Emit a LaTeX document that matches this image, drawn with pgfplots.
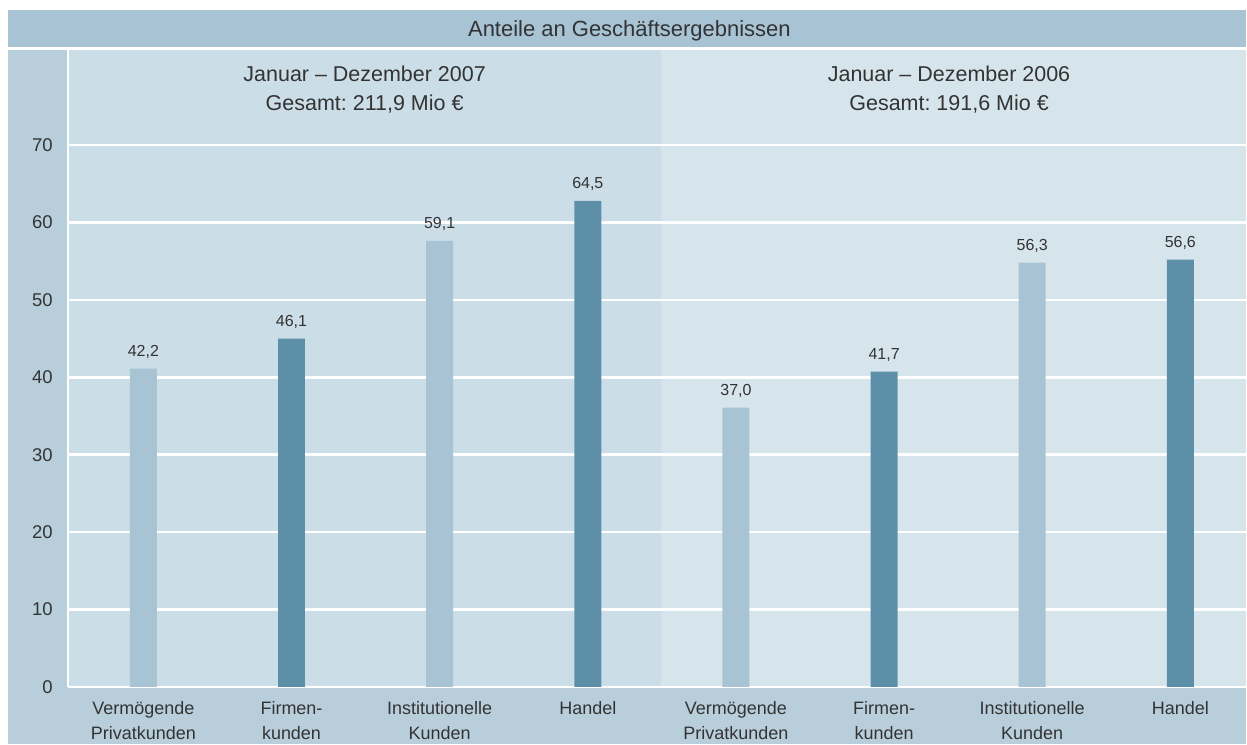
\documentclass[border=0pt]{standalone}
\usepackage{pgfplots}
\pgfplotsset{compat=1.18}
\usepackage{pgfplotstable}
\usepackage{fontspec}
\setmainfont{Liberation Sans}
\frenchspacing
\definecolor{titlebar}{HTML}{A7C3D4}
\definecolor{strip}{HTML}{B8CFDB}
\definecolor{panelL}{HTML}{CBDDE6}
\definecolor{panelR}{HTML}{D6E5EC}
\definecolor{barL}{HTML}{A7C3D4}
\definecolor{barD}{HTML}{5E8FA8}
\definecolor{txt}{HTML}{333333}

\pgfplotstableread{
x y lab
143.5 41.12 42,2
440.1 57.65 59,1
736.7 36.09 37,0
1033.2 54.81 56,3
}\light
\pgfplotstableread{
x y lab
291.8 45.00 46,1
588.4 62.81 64,5
885.0 40.74 41,7
1181.5 55.20 56,6
}\dark

\begin{document}
\begin{tikzpicture}
\begin{axis}[
 set layers,
 scale only axis, width=1179pt, height=637.5pt,
 xmin=68, xmax=1247, ymin=0, ymax=82.31,
 enlargelimits=false,
 clip=false,
 axis x line=bottom, axis y line=left,
 axis line style={white, line width=2.5pt, -},
 xtick={143.5,291.8,440.1,588.4,736.7,885.0,1033.2,1181.5},
 xticklabels={{Vermögende\\Privatkunden},{Firmen-\\kunden},{Institutionelle\\Kunden},{Handel},{Vermögende\\Privatkunden},{Firmen-\\kunden},{Institutionelle\\Kunden},{Handel}},
 ytick={0,10,...,70},
 major tick length=0pt,
 ymajorgrids, major grid style={white, line width=2.5pt},
 tick label style={font=\fontsize{18}{25}\selectfont, text=txt},
 xticklabel style={align=center, inner sep=0pt, anchor=north, yshift=-14pt},
 yticklabel style={inner sep=0pt, anchor=east, xshift=-15pt, font=\fontsize{18.5}{22}\selectfont},
 /pgf/number format/assume math mode=true,
 point meta=explicit symbolic,
 nodes near coords,
 every node near coord/.append style={font=\fontsize{16}{19}\selectfont, text=txt, anchor=base, yshift=12.5pt, inner sep=0pt},
]
\begin{pgfonlayer}{axis background}
\fill[white] (axis cs:0,-7.424) rectangle (axis cs:1247,88.77);
\fill[strip] (axis cs:8,-7.424) rectangle (axis cs:1247,82.31);
\fill[titlebar] (axis cs:8,82.70) rectangle (axis cs:1247,87.48);
\fill[panelL] (axis cs:68,0) rectangle (axis cs:662,82.31);
\fill[panelR] (axis cs:662,0) rectangle (axis cs:1247,82.31);
\end{pgfonlayer}

\addplot[ybar, bar width=27pt, bar shift=0pt, fill=barL, draw=none] table[x=x, y=y, meta=lab] {\light};
\addplot[ybar, bar width=27pt, bar shift=0pt, fill=barD, draw=none] table[x=x, y=y, meta=lab] {\dark};

\node[anchor=base, font=\fontsize{22}{26}\selectfont, text=txt] at (axis cs:630,84.0) {Anteile an Geschäftsergebnissen};
\node[anchor=base, font=\fontsize{21.5}{25}\selectfont, text=txt] at (axis cs:365,78.21) {Januar – Dezember 2007};
\node[anchor=base, font=\fontsize{21.5}{25}\selectfont, text=txt] at (axis cs:365,74.53) {Gesamt: 211,9 Mio €};
\node[anchor=base, font=\fontsize{21.5}{25}\selectfont, text=txt] at (axis cs:950,78.21) {Januar – Dezember 2006};
\node[anchor=base, font=\fontsize{21.5}{25}\selectfont, text=txt] at (axis cs:950,74.53) {Gesamt: 191,6 Mio €};
\end{axis}
\end{tikzpicture}
\end{document}
